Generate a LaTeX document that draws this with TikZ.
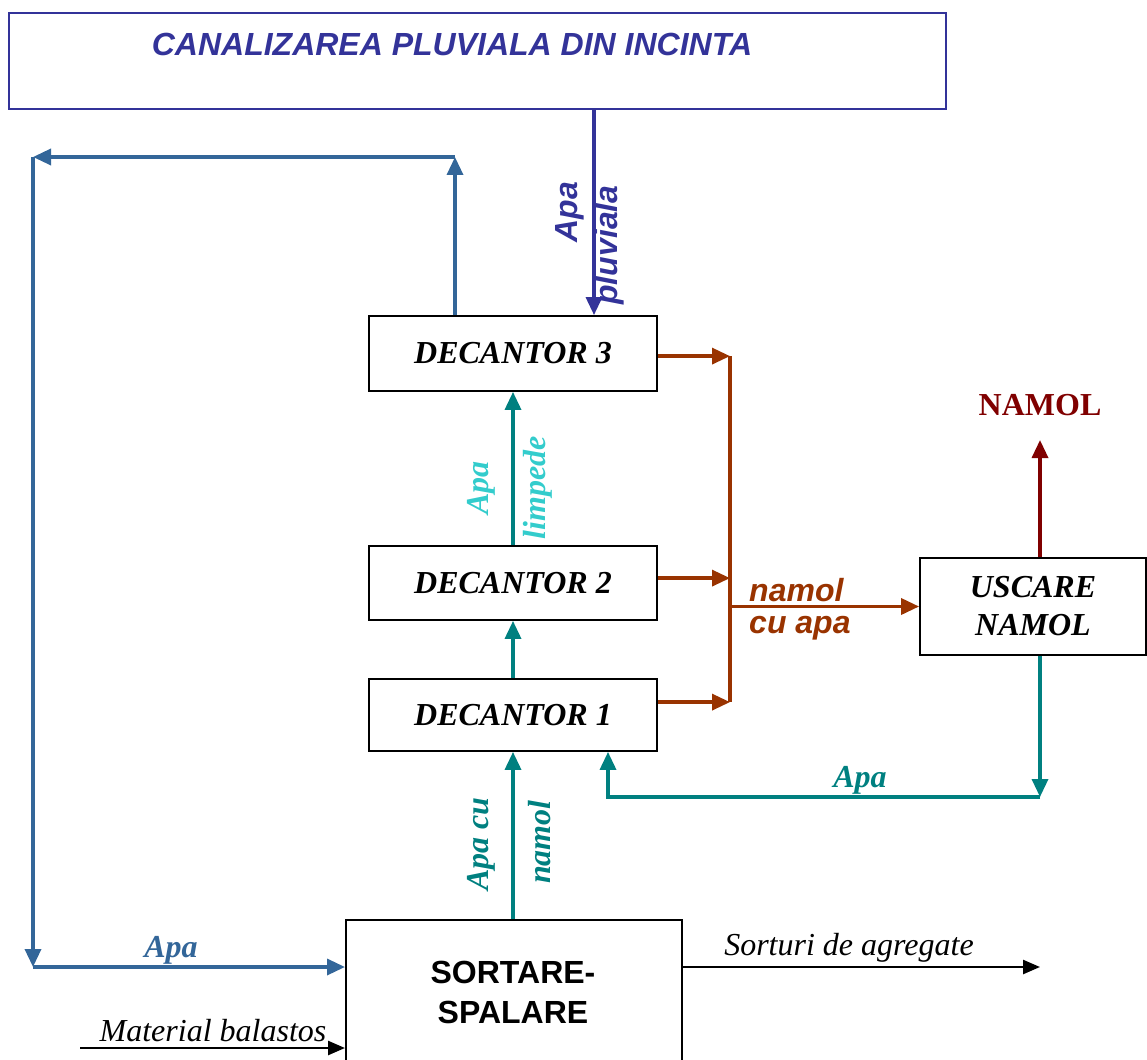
\documentclass[tikz,border=0pt]{standalone}
\usepackage{fontspec}
\setmainfont{Liberation Serif}
\newfontfamily\arialf{Liberation Sans}
\usetikzlibrary{arrows.meta}
\definecolor{steelb}{HTML}{336699}
\definecolor{navyb}{HTML}{333399}
\definecolor{rust}{HTML}{993300}
\definecolor{darkred}{HTML}{800000}
\definecolor{tealc}{HTML}{008080}
\definecolor{turq}{HTML}{33CCCC}
\tikzset{
  box/.style={draw=black, line width=1.8pt, rectangle, inner sep=0pt},
  big/.style={font=\fontsize{32}{38}\selectfont},
  flow/.style={line width=3.4pt, -{Triangle[length=18pt 0 0,width=16pt 0 0]}},
  thinflow/.style={line width=2.5pt, -{Triangle[length=17pt 0 0,width=14pt 0 0]}},
  plain/.style={line width=3.4pt},
  lbl/.style={inner sep=0pt, font=\fontsize{32}{38}\selectfont\bfseries\itshape},
  slbl/.style={inner sep=0pt, font=\fontsize{32}{38}\selectfont\arialf\bfseries\itshape},
}
\begin{document}
\begin{tikzpicture}[x=1pt,y=-1pt]
\useasboundingbox (0,0) rectangle (1147,1059);

% boxes
\node[draw=navyb, line width=1.6pt, rectangle, minimum width=937pt, minimum height=96pt, anchor=north west] (canal) at (8,12) {};
\node[slbl, text=navyb] (canaltxt) at (452,44) {CANALIZAREA PLUVIALA DIN INCINTA};

\node[box, minimum width=288pt, minimum height=75pt, big] (d3) at (513,353.5) {\bfseries\itshape DECANTOR 3};
\node[box, minimum width=288pt, minimum height=74pt, big] (d2) at (513,583) {\bfseries\itshape DECANTOR 2};
\node[box, minimum width=288pt, minimum height=72pt, big] (d1) at (513,715) {\bfseries\itshape DECANTOR 1};
\node[box, minimum width=226pt, minimum height=97pt, align=center, font=\fontsize{32}{38}\selectfont\bfseries\itshape] (usc) at (1033,606.5) {USCARE\\NAMOL};
\node[box, minimum width=336pt, minimum height=160pt, anchor=north west] (sort) at (345,919) {};
\node[inner sep=0pt, align=center, font=\fontsize{32}{40}\selectfont\arialf\bfseries] (sorttxt) at (513,992) {SORTARE-\\SPALARE};

% reference points for the routed connectors
\coordinate (px) at (594,0);
\coordinate (loopA) at (455,157);
\coordinate (loopB) at (33,157);
\coordinate (loopC) at (33,967);
\coordinate (bj) at (730,0);
\coordinate (ub) at (1040,797);
\coordinate (ua) at (608,797);
\coordinate (namoltip) at (1040,440);
\coordinate (sortend) at (1040,967);
\coordinate (matstart) at (80,1048);

% rain water
\draw[flow, navyb] (canal.south -| px) -- (d3.north -| px);
\node[slbl, text=navyb, rotate=90] (lpa) at (570,212) {Apa};
\node[slbl, text=navyb, rotate=90] (lpb) at (609,245) {pluviala};

% recirculated water loop
\draw[flow, steelb] (d3.north -| loopA) -- (loopA);
\draw[flow, steelb] (loopA) -- (loopB);
\draw[flow, steelb] (loopB) -- (loopC);
\draw[flow, steelb] (loopC) -- (loopC -| sort.west);
\node[lbl, text=steelb] (lapa1) at (171,950) {Apa};

% clear water between settlers
\draw[flow, tealc] (d2.north) -- (d3.south);
\draw[flow, tealc] (d1.north) -- (d2.south);
\node[lbl, text=turq, rotate=90] (llim1) at (481,488) {Apa};
\node[lbl, text=turq, rotate=90] (llim2) at (538,488) {limpede};

% muddy water from washing
\draw[flow, tealc] (sort.north -| d1.south) -- (d1.south);
\node[lbl, text=tealc, rotate=90] (lcu1) at (481,844) {Apa cu};
\node[lbl, text=tealc, rotate=90] (lcu2) at (540,842) {namol};

% sludge collector
\draw[flow, rust] ([yshift=-41pt]d3.north east) -- ([yshift=-41pt]d3.north east -| bj);
\draw[flow, rust] ([yshift=-33pt]d2.north east) -- ([yshift=-33pt]d2.north east -| bj);
\draw[flow, rust] ([yshift=-24pt]d1.north east) -- ([yshift=-24pt]d1.north east -| bj);
\draw[plain, rust] ([yshift=-41pt]d3.north east -| bj) -- ([yshift=-24pt]d1.north east -| bj);
\draw[flow, rust] (usc.west -| bj) -- (usc.west);
\node[slbl, text=rust, anchor=west] (lnam1) at (749,590) {namol};
\node[slbl, text=rust, anchor=west] (lnam2) at (749,628) {cu apa};

% water returned from drying
\draw[flow, tealc] (usc.south -| ub) -- (ub);
\draw[flow, tealc] (ub) -- (ua) -- (d1.south -| ua);
\node[lbl, text=tealc] (lapa2) at (860,780) {Apa};

% dried sludge
\draw[flow, darkred] (usc.north -| ub) -- (namoltip);
\node[inner sep=0pt, text=darkred, font=\fontsize{32}{38}\selectfont\bfseries] (namol) at (1040,405) {NAMOL};

% products and raw material
\draw[thinflow] (sort.east |- loopC) -- (sortend);
\node[inner sep=0pt, font=\fontsize{32}{38}\selectfont\itshape] (lsort) at (849,948) {Sorturi de agregate};
\draw[thinflow] (matstart) -- (sort.west |- matstart);
\node[inner sep=0pt, font=\fontsize{32}{38}\selectfont\itshape] (lmat) at (213,1031) {Material balastos};
\end{tikzpicture}
\end{document}
